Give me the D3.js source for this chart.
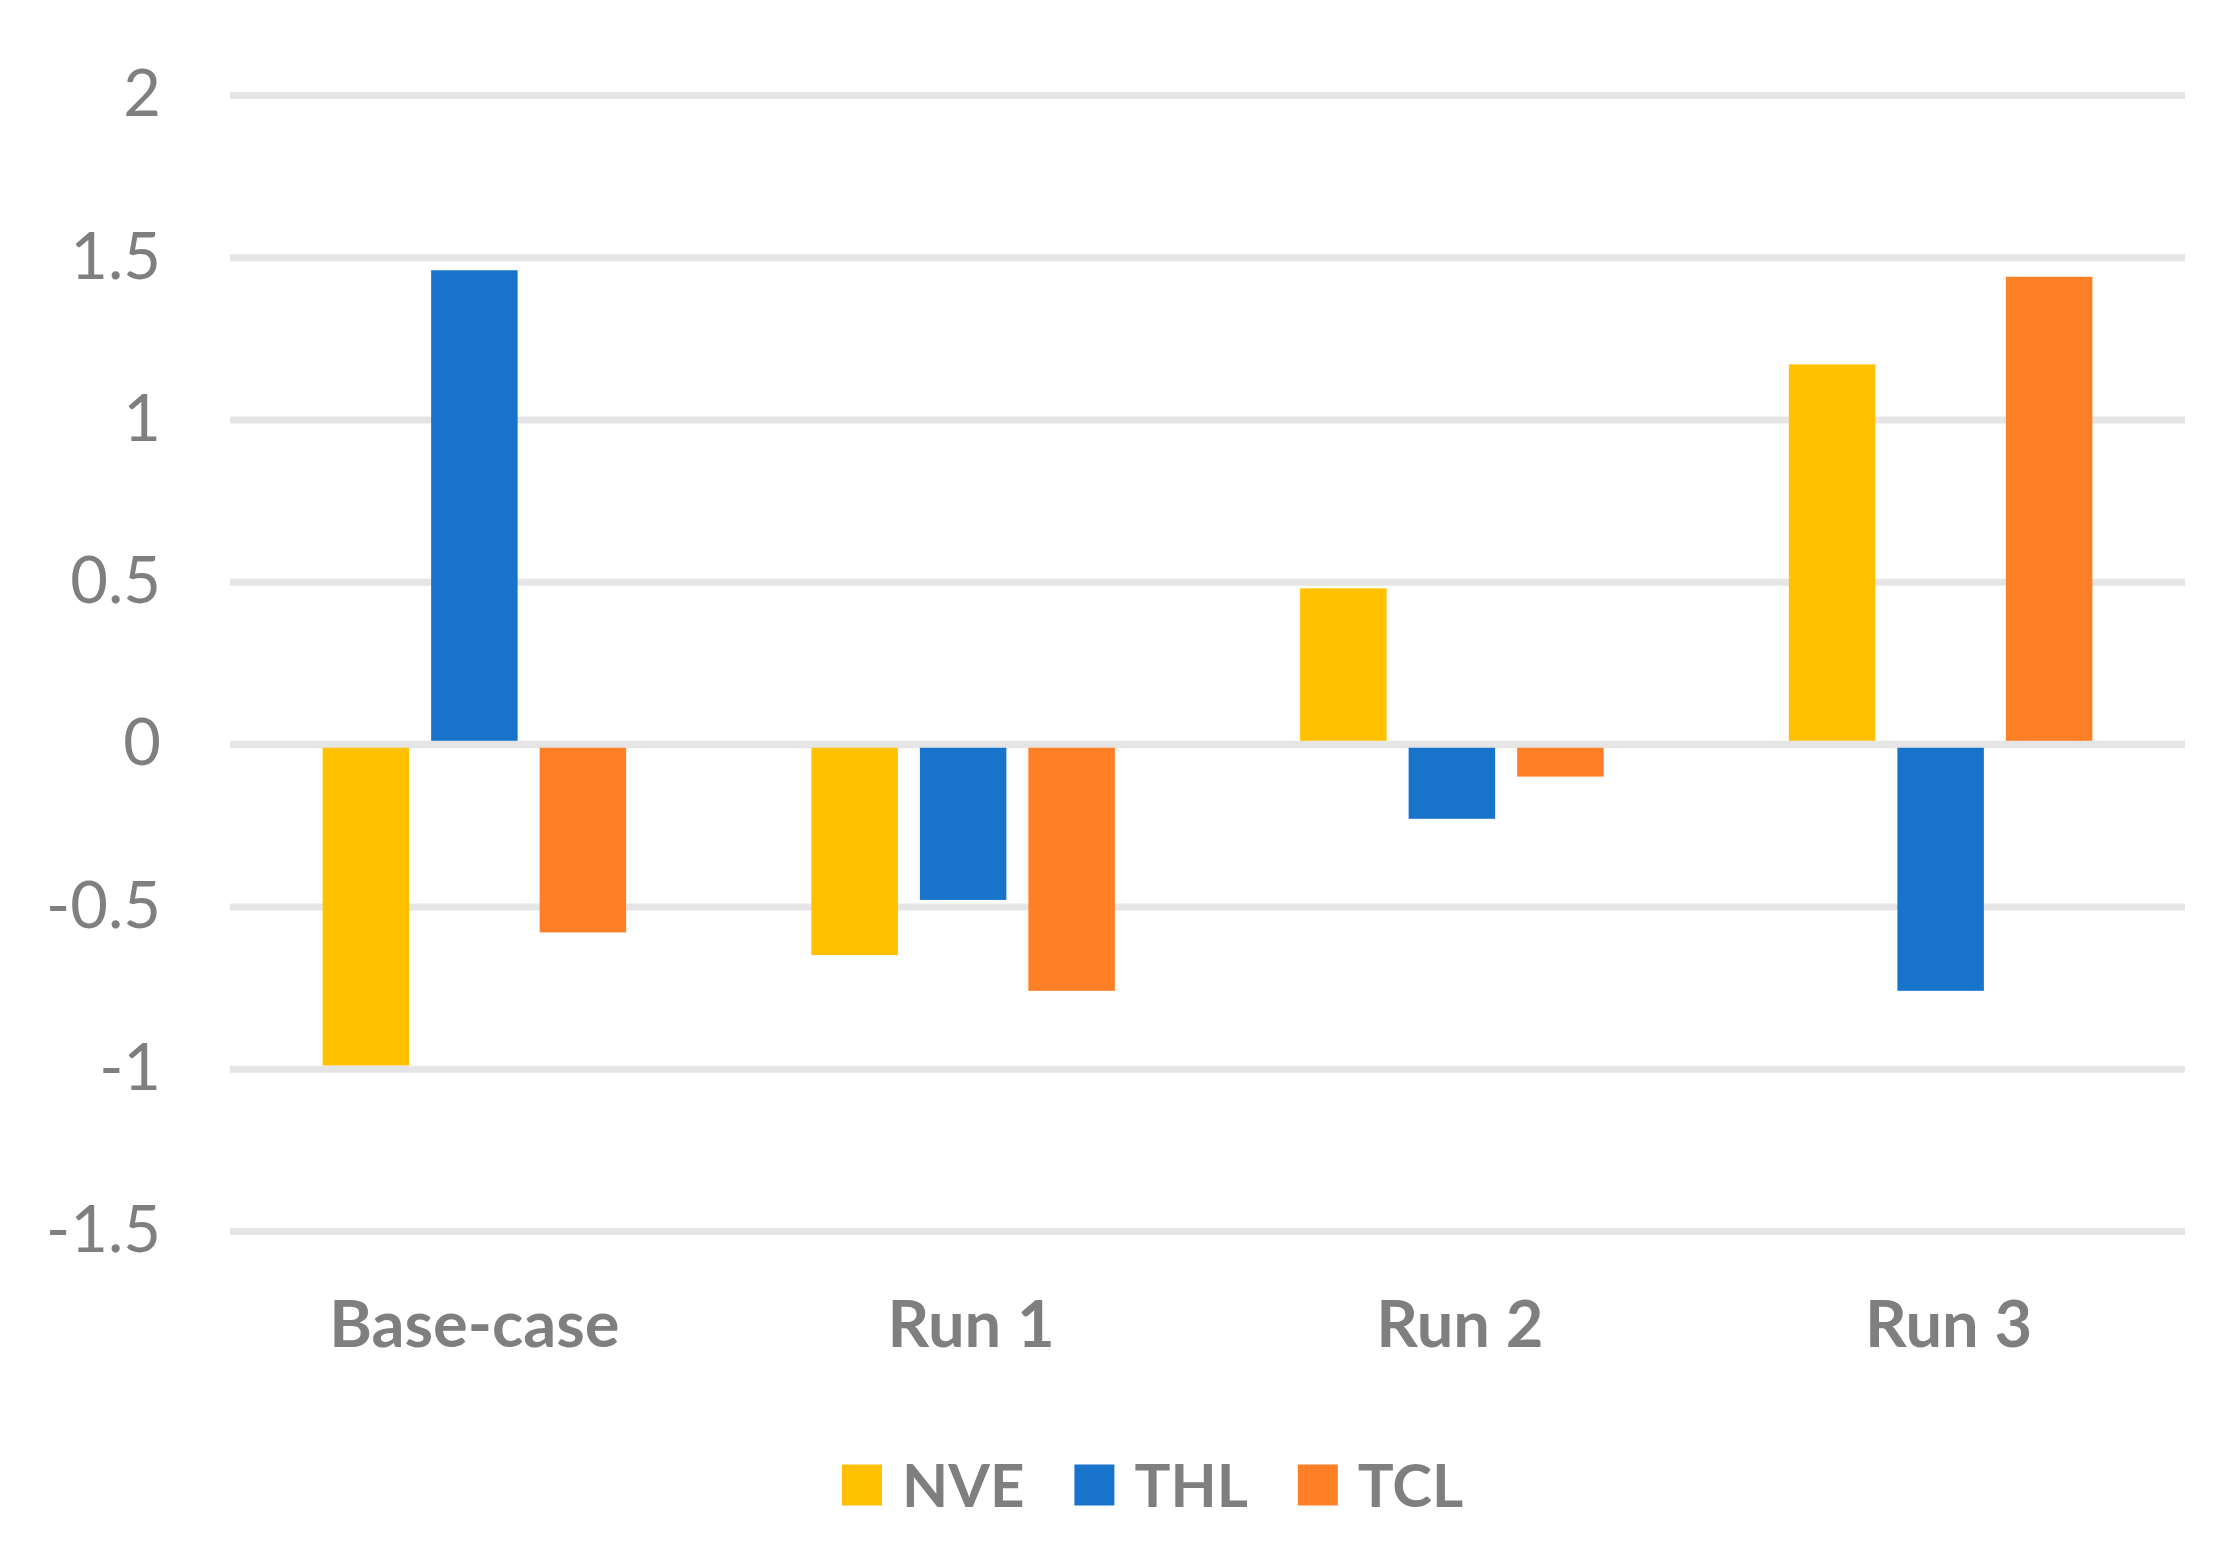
<!DOCTYPE html>
<html>
<head>
<meta charset="utf-8">
<script src="https://cdn.jsdelivr.net/npm/d3@7"></script>
<style>
  body { margin: 0; background: #fff; }
  text { font-family: Lato, "Open Sans", sans-serif; }
</style>
</head>
<body>
<script>
// data
var categories = ["Base-case", "Run 1", "Run 2", "Run 3"];
var series = ["NVE", "THL", "TCL"];
var NVE = [-0.99, -0.65, 0.48, 1.17];
var THL = [1.46, -0.48, -0.23, -0.76];
var TCL = [-0.58, -0.76, -0.10, 1.44];
var yTicks = [-1.5, -1, -0.5, 0, 0.5, 1, 1.5, 2];
var colors = ["#FFC000", "#1874CA", "#FF7F27"];

var values = [NVE, THL, TCL];
var W = 2230, H = 1550;
var plotLeft = 230, plotRight = 2185, plotTop = 95, plotBottom = 1231;
var gridColor = "#e5e5e5", textColor = "#7f7f7f";

var svg = d3.select("body").append("svg")
    .attr("width", W)
    .attr("height", H);

svg.append("rect")
    .attr("width", W)
    .attr("height", H)
    .attr("fill", "#fff");

var x = d3.scaleBand()
    .domain(categories)
    .range([plotLeft, plotRight]);

var step = 108.5;
var x1 = d3.scaleBand()
    .domain(series)
    .range([-1.5 * step, 1.5 * step])
    .paddingInner(22 / step)
    .paddingOuter(11 / step);

var y = d3.scaleLinear()
    .domain([-1.5, 2])
    .range([plotBottom, plotTop]);

// gridlines + tick labels
var yAxis = svg.append("g")
    .attr("transform", "translate(" + plotLeft + ",0)")
    .call(d3.axisLeft(y)
        .tickValues(yTicks)
        .tickSize(-(plotRight - plotLeft))
        .tickPadding(69)
        .tickFormat(function(d){ return String(d); }));
yAxis.select(".domain").remove();
yAxis.selectAll(".tick line")
    .attr("stroke", gridColor)
    .attr("stroke-width", 7);
yAxis.selectAll(".tick text")
    .attr("fill", textColor)
    .attr("font-size", 65)
    .attr("font-family", "Lato");

// bars
var rows = [];
categories.forEach(function(c, i){
    series.forEach(function(s, j){
        rows.push({cat: c, ser: s, v: values[j][i], color: colors[j]});
    });
});

svg.append("g")
    .selectAll("rect")
    .data(rows)
    .enter()
    .append("rect")
    .attr("x", function(d){ return x(d.cat) + x.bandwidth() / 2 + x1(d.ser); })
    .attr("width", x1.bandwidth())
    .attr("y", function(d){ return y(Math.max(d.v, 0)); })
    .attr("height", function(d){ return Math.abs(y(d.v) - y(0)); })
    .attr("fill", function(d){ return d.color; });

// zero line sits over the bars
svg.append("line")
    .attr("x1", plotLeft)
    .attr("x2", plotRight)
    .attr("y1", y(0))
    .attr("y2", y(0))
    .attr("stroke", gridColor)
    .attr("stroke-width", 7);

// category labels
var xAxis = svg.append("g")
    .attr("transform", "translate(0," + plotBottom + ")")
    .call(d3.axisBottom(x).tickSize(0).tickPadding(0));
xAxis.select(".domain").remove();
xAxis.selectAll(".tick text")
    .attr("dy", null)
    .attr("y", 116)
    .attr("x", function(d){ return d == "Base-case" ? 0 : 8; })
    .attr("fill", textColor)
    .attr("font-size", 65)
    .attr("font-weight", "bold")
    .attr("font-family", "Lato");

// legend
var legend = svg.append("g").attr("transform", "translate(842,1485)");
var lx = 0;
series.forEach(function(s, j){
    var item = legend.append("g").attr("transform", "translate(" + lx + ",0)");
    item.append("rect")
        .attr("x", 0)
        .attr("y", -20.5)
        .attr("width", 40)
        .attr("height", 41)
        .attr("fill", colors[j]);
    var t = item.append("text")
        .attr("x", 60)
        .attr("y", 22)
        .attr("fill", textColor)
        .attr("font-size", 60)
        .attr("font-weight", "bold")
        .text(s);
    lx += 60 + t.node().getComputedTextLength() + 50;
});
</script>
</body>
</html>
